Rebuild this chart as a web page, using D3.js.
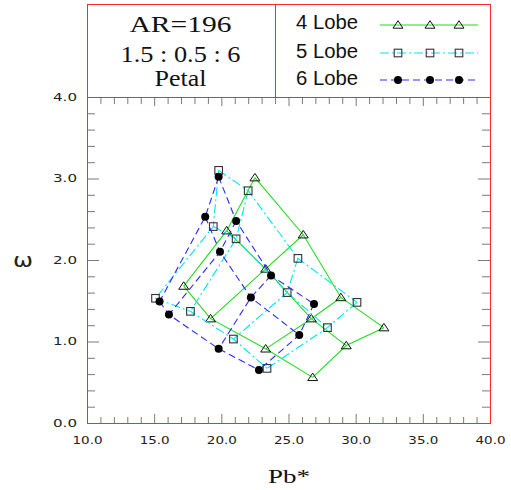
<!DOCTYPE html>
<html><head><meta charset="utf-8">
<script src="https://cdn.jsdelivr.net/npm/d3@7"></script>
<style>body{margin:0;background:#fff} svg{display:block}</style>
</head><body>
<svg id="c" width="511" height="490"></svg>
<script>
// ---- data ----
const xTickValues = [10, 15, 20, 25, 30, 35, 40];
const yTickValues = [0, 1, 2, 3, 4];
const seriesNames = ["4 Lobe", "5 Lobe", "6 Lobe"];
const headerLines = ["AR=196", "1.5 : 0.5 : 6", "Petal"];
const xTitle = "Pb*";
const yTitle = "\u03c9";

// each series: 3 rows x 4 columns mesh (Pb*, omega)
const lobe4Pb = [
  [22.5, 26.1, 28.9, 32.1],
  [20.4, 23.3, 26.7, 29.3],
  [17.2, 19.2, 23.3, 26.8]
];
const lobe4Omega = [
  [3.01, 2.31, 1.54, 1.17],
  [2.36, 1.89, 1.28, 0.95],
  [1.68, 1.28, 0.91, 0.56]
];
const lobe5Pb = [
  [19.8, 22.0, 25.7, 30.1],
  [19.4, 21.1, 24.9, 27.9],
  [15.1, 17.7, 20.9, 23.4]
];
const lobe5Omega = [
  [3.10, 2.85, 2.02, 1.48],
  [2.41, 2.26, 1.60, 1.17],
  [1.53, 1.37, 1.03, 0.67]
];
const lobe6Pb = [
  [19.8, 21.1, 23.7, 26.9],
  [18.8, 19.9, 22.2, 25.8],
  [15.4, 16.1, 19.8, 22.8]
];
const lobe6Omega = [
  [3.02, 2.48, 1.81, 1.46],
  [2.53, 2.10, 1.54, 1.08],
  [1.49, 1.33, 0.91, 0.65]
];

// ---- drawing ----
const svg = d3.select("#c");
const x = d3.scaleLinear().domain([10, 40]).range([87, 490]);
const y = d3.scaleLinear().domain([0, 4]).range([423, 97]);

const RED = "#ff2a2a";
const TICK = "#7a7a7a";

const xMinor = d3.range(10, 40.001, 1).filter(v => Math.abs(v % 5) > 1e-6);
const yMinor = d3.range(0, 4.001, 0.2).map(v => +v.toFixed(1)).filter(v => Math.abs(v - Math.round(v)) > 1e-6);

function styleAxis(g) {
  g.select(".domain").remove();
  g.attr("color", TICK);
  g.selectAll("line").attr("stroke", TICK);
}
const fmt = d3.format(".1f");

// bottom
svg.append("g").attr("transform", "translate(0,423)")
  .call(d3.axisBottom(x).tickValues(xTickValues).tickSize(-9).tickPadding(14).tickFormat(fmt))
  .call(styleAxis)
  .call(g => g.selectAll("text").attr("fill", "#222").attr("font-family", "DejaVu Sans")
    .attr("font-size", 10.5).attr("textLength", 30).attr("lengthAdjust", "spacingAndGlyphs"));
svg.append("g").attr("transform", "translate(0,423)")
  .call(d3.axisBottom(x).tickValues(xMinor).tickSize(-6).tickFormat(""))
  .call(styleAxis);
// top
svg.append("g").attr("transform", "translate(0,97)")
  .call(d3.axisTop(x).tickValues(xTickValues).tickSize(-9).tickFormat(""))
  .call(styleAxis);
svg.append("g").attr("transform", "translate(0,97)")
  .call(d3.axisTop(x).tickValues(xMinor).tickSize(-7).tickFormat(""))
  .call(styleAxis);
// left
svg.append("g").attr("transform", "translate(87,0)")
  .call(d3.axisLeft(y).tickValues(yTickValues).tickSize(-12).tickPadding(10).tickFormat(fmt))
  .call(styleAxis)
  .call(g => g.selectAll("text").attr("fill", "#222").attr("font-family", "DejaVu Sans")
    .attr("font-size", 10.5).attr("textLength", 24).attr("lengthAdjust", "spacingAndGlyphs"));
svg.append("g").attr("transform", "translate(87,0)")
  .call(d3.axisLeft(y).tickValues(yMinor).tickSize(-8).tickFormat(""))
  .call(styleAxis);
// right
svg.append("g").attr("transform", "translate(490,0)")
  .call(d3.axisRight(y).tickValues(yTickValues).tickSize(-12).tickFormat(""))
  .call(styleAxis);
svg.append("g").attr("transform", "translate(490,0)")
  .call(d3.axisRight(y).tickValues(yMinor).tickSize(-8).tickFormat(""))
  .call(styleAxis);

// plot frame
svg.append("rect").attr("x", 87.5).attr("y", 97.5).attr("width", 403).attr("height", 326)
  .attr("fill", "none").attr("stroke", RED).attr("stroke-width", 1);

// header box
svg.append("rect").attr("x", 87.5).attr("y", 4.5).attr("width", 403).attr("height", 93)
  .attr("fill", "none").attr("stroke", RED).attr("stroke-width", 1);
svg.append("line").attr("x1", 275.5).attr("x2", 275.5).attr("y1", 4.5).attr("y2", 97.5)
  .attr("stroke", RED).attr("stroke-width", 1);

const headerY = [32.3, 61.7, 86];
const headerW = [102, 120, 52];
const headerSize = [23.5, 22.5, 22.5];
headerLines.forEach((t, i) => {
  svg.append("text").attr("x", 180.5).attr("y", headerY[i]).attr("text-anchor", "middle")
    .attr("font-family", "Liberation Serif").attr("font-size", headerSize[i]).attr("fill", "#111")
    .attr("textLength", headerW[i]).attr("lengthAdjust", "spacingAndGlyphs").text(t);
});

// series styles
const styles = [
  {pb: lobe4Pb, om: lobe4Omega, color: "#22dd22", dash: null, marker: "tri"},
  {pb: lobe5Pb, om: lobe5Omega, color: "#00e6f0", dash: "9,3,2,3", marker: "sq"},
  {pb: lobe6Pb, om: lobe6Omega, color: "#2b2bff", dash: "7,4", marker: "dot"}
];

const triPath = "M0,-4.3L5,3.2L-5,3.2Z";
function drawMarker(g, kind, px, py) {
  if (kind === "tri") {
    g.append("path").attr("d", triPath).attr("transform", `translate(${px},${py})`)
      .attr("fill", "none").attr("stroke", "#111").attr("stroke-width", 1);
  } else if (kind === "sq") {
    g.append("rect").attr("x", px - 3.8).attr("y", py - 3.8).attr("width", 7.6).attr("height", 7.6)
      .attr("fill", "none").attr("stroke", "#333").attr("stroke-width", 1.1);
  } else {
    g.append("circle").attr("cx", px).attr("cy", py).attr("r", 4).attr("fill", "#000");
  }
}

const line = d3.line().x(d => x(d[0])).y(d => y(d[1]));

styles.forEach(s => {
  const g = svg.append("g");
  const nr = s.pb.length, nc = s.pb[0].length;
  const rows = d3.range(nr).map(i => d3.range(nc).map(j => [s.pb[i][j], s.om[i][j]]));
  const cols = d3.range(nc).map(j => d3.range(nr).map(i => [s.pb[i][j], s.om[i][j]]));
  rows.concat(cols).forEach(pts => {
    g.append("path").attr("d", line(pts)).attr("fill", "none").attr("stroke", s.color)
      .attr("stroke-width", 1.1).attr("stroke-dasharray", s.dash);
  });
  rows.flat().forEach(p => drawMarker(g, s.marker, x(p[0]), y(p[1])));
});

// legend
const legY = [25, 53, 80];
const legTextY = [29, 58.3, 85];
const legMarkX = [398, 430, 459];
styles.forEach((s, i) => {
  svg.append("text").attr("x", 296).attr("y", legTextY[i]).attr("font-family", "Liberation Sans")
    .attr("font-size", 19.5).attr("fill", "#111").attr("textLength", 62)
    .attr("lengthAdjust", "spacingAndGlyphs").text(seriesNames[i]);
  svg.append("line").attr("x1", 380).attr("x2", 478).attr("y1", legY[i]).attr("y2", legY[i])
    .attr("stroke", s.color).attr("stroke-width", 1.1).attr("stroke-dasharray", s.dash);
  legMarkX.forEach(mx => drawMarker(svg, s.marker, mx, legY[i]));
});

// axis titles
svg.append("text").attr("x", 289).attr("y", 483).attr("text-anchor", "middle")
  .attr("font-family", "Liberation Serif").attr("font-size", 19).attr("fill", "#111")
  .attr("textLength", 42).attr("lengthAdjust", "spacingAndGlyphs").text(xTitle);
svg.append("text").attr("x", 23).attr("y", 267).attr("text-anchor", "middle")
  .attr("font-family", "DejaVu Sans").attr("font-size", 20).attr("fill", "#222")
  .attr("textLength", 20).attr("lengthAdjust", "spacingAndGlyphs").text(yTitle);
</script>
</body></html>
